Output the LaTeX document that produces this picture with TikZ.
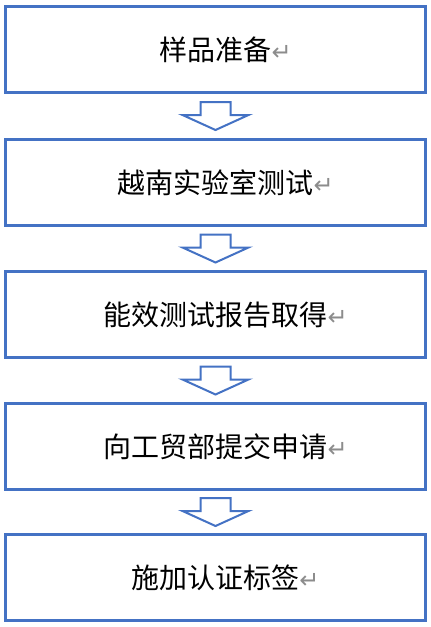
\documentclass[tikz,border=0pt]{standalone}
\usepackage{fontspec}
\newfontfamily\cjk{Noto Sans CJK SC}
\newfontfamily\symf{DejaVu Sans}
\usetikzlibrary{calc}
\definecolor{wblue}{HTML}{4472C4}
\definecolor{markgray}{HTML}{8C8C8C}
\newcommand{\retmark}{\rlap{\symf\fontsize{24}{26}\selectfont\textcolor{markgray}{↵}}}
\tikzset{
  box/.style={draw=wblue, line width=3pt, minimum width=420pt, minimum height=85.5pt, inner sep=0pt,
    font=\cjk\fontsize{28}{32}\selectfont, text=black},
  blockarrow/.style={draw=wblue, line width=2pt, fill=white, line join=miter}
}
\newcommand{\downarrowat}[1]{%
  \draw[blockarrow] ($(#1)+(-15pt,14pt)$) -- ($(#1)+(15pt,14pt)$) -- ($(#1)+(15pt,1pt)$)
    -- ($(#1)+(33pt,1pt)$) -- ($(#1)+(0pt,-14pt)$) -- ($(#1)+(-33pt,1pt)$)
    -- ($(#1)+(-15pt,1pt)$) -- cycle;}
\begin{document}
\begin{tikzpicture}[x=1pt,y=-1pt]
\useasboundingbox (0,0) rectangle (431,627);
\node[box] (b1) at (215.5,49.5) {样品准备\retmark};
\node[box] (b2) at (215.5,182.5) {越南实验室测试\retmark};
\node[box] (b3) at (215.5,314.5) {能效测试报告取得\retmark};
\node[box] (b4) at (215.5,446.5) {向工贸部提交申请\retmark};
\node[box] (b5) at (215.5,577.5) {施加认证标签\retmark};
\foreach \a/\b in {b1/b2,b2/b3,b3/b4,b4/b5}{
  \coordinate (m\a) at ($(\a.south)!0.5!(\b.north)$);
  \downarrowat{m\a}
}
\end{tikzpicture}
\end{document}
